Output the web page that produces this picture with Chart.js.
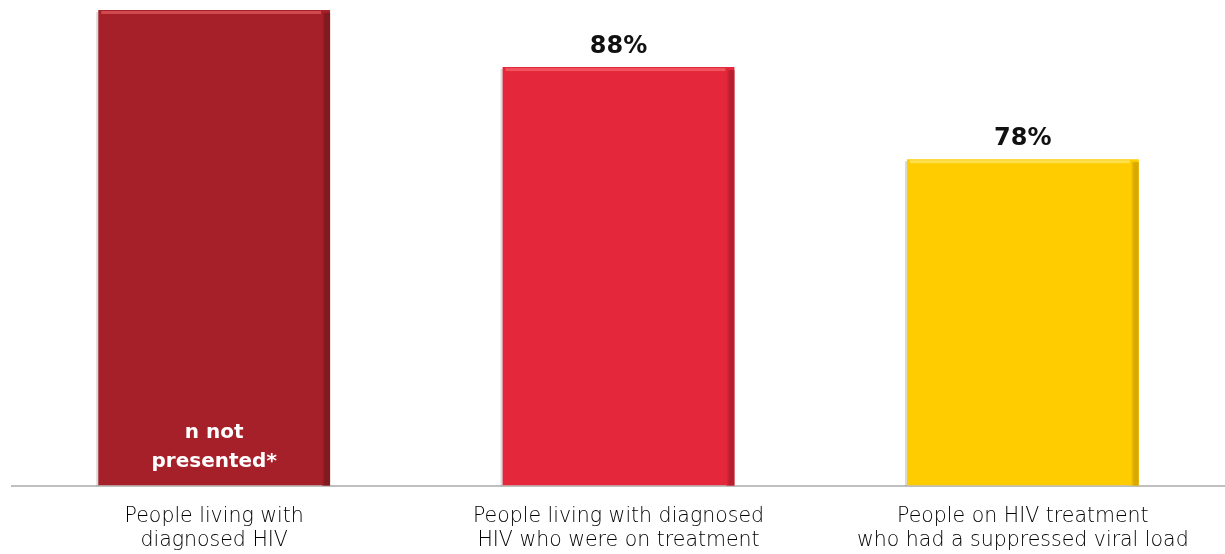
<!DOCTYPE html>
<html>
<head>
<meta charset="utf-8">
<script src="https://cdn.jsdelivr.net/npm/chart.js@4/dist/chart.umd.min.js"></script>
<style>
  html, body { margin: 0; padding: 0; background: #fff; }
  #wrap { width: 1225px; height: 554px; }
</style>
</head>
<body>
<div id="wrap"><canvas id="cascade"></canvas></div>
<script>
const stages = [
  ['People living with', 'diagnosed HIV'],
  ['People living with diagnosed', 'HIV who were on treatment'],
  ['People on HIV treatment', 'who had a suppressed viral load']
];
// share of the previous stage; first stage is the reference (100%)
const stagePercent = [100, 88, 78];
const valueLabels = [null, '88%', '78%'];
const innerNote = ['n not', 'presented*'];
const barColors = ['#a52028', '#e4273a', '#ffcc00'];
const edgeColors = ['#7f1a1f', '#b81f2e', '#d9a900'];
const topColors = ['#d2484f', '#f0555f', '#ffe14d'];

// each bar is a share of the bar before it
const barValues = [];
stagePercent.forEach((p, i) => {
  barValues.push(i === 0 ? p : barValues[i - 1] * p / 100);
});

const bevel = {
  id: 'bevel',
  afterDatasetsDraw(chart) {
    const ctx = chart.ctx;
    chart.getDatasetMeta(0).data.forEach((bar, i) => {
      const left = bar.x - bar.width / 2, right = bar.x + bar.width / 2;
      const top = bar.y, bottom = bar.base;
      ctx.save();
      // soft grey shadow along the left side
      ctx.fillStyle = 'rgba(0,0,0,0.15)';
      ctx.fillRect(left - 2, top + 2, 2, bottom - top - 2);
      // darker right face
      const g = ctx.createLinearGradient(right - 8, 0, right, 0);
      g.addColorStop(0, barColors[i]);
      g.addColorStop(0.4, edgeColors[i]);
      g.addColorStop(1, edgeColors[i]);
      ctx.fillStyle = g;
      ctx.fillRect(right - 8, top + 3, 8, bottom - top - 3);
      // light top edge
      ctx.fillStyle = topColors[i];
      ctx.fillRect(left + 3, top + 1, bar.width - 12, 3);
      ctx.restore();
    });
  }
};

const barLabels = {
  id: 'barLabels',
  afterDraw(chart) {
    const ctx = chart.ctx;
    const bars = chart.getDatasetMeta(0).data;
    ctx.save();
    ctx.textAlign = 'center';
    ctx.textBaseline = 'alphabetic';
    ctx.font = 'bold 24px "DejaVu Sans", sans-serif';
    ctx.fillStyle = '#111';
    bars.forEach((bar, i) => {
      if (valueLabels[i]) ctx.fillText(valueLabels[i], bar.x, bar.y - 14);
    });
    ctx.fillStyle = '#fff';
    ctx.font = 'bold 20px "DejaVu Sans", sans-serif';
    ctx.fillText(innerNote[0], bars[0].x, bars[0].base - 48);
    ctx.fillText(innerNote[1], bars[0].x, bars[0].base - 19);
    ctx.restore();
  }
};

new Chart(document.getElementById('cascade'), {
  type: 'bar',
  data: {
    labels: stages,
    datasets: [{
      data: barValues,
      backgroundColor: barColors,
      borderWidth: 0,
      barPercentage: 0.78,
      categoryPercentage: 0.735
    }]
  },
  options: {
    responsive: true,
    maintainAspectRatio: false,
    animation: false,
    layout: { padding: { top: 10, left: 12, right: 0, bottom: -18 } },
    plugins: { legend: { display: false }, tooltip: { enabled: false } },
    scales: {
      y: { display: false, min: 0, max: 100 },
      x: {
        grid: { display: false, drawTicks: false },
        border: { display: true, color: '#bfbfbf', width: 2 },
        ticks: {
          color: '#000',
          padding: 19,
          maxRotation: 0,
          font: { family: '"DejaVu Sans", sans-serif', size: 20.5, weight: 200, lineHeight: 1.18 }
        }
      }
    }
  },
  plugins: [bevel, barLabels]
});
</script>
</body>
</html>
